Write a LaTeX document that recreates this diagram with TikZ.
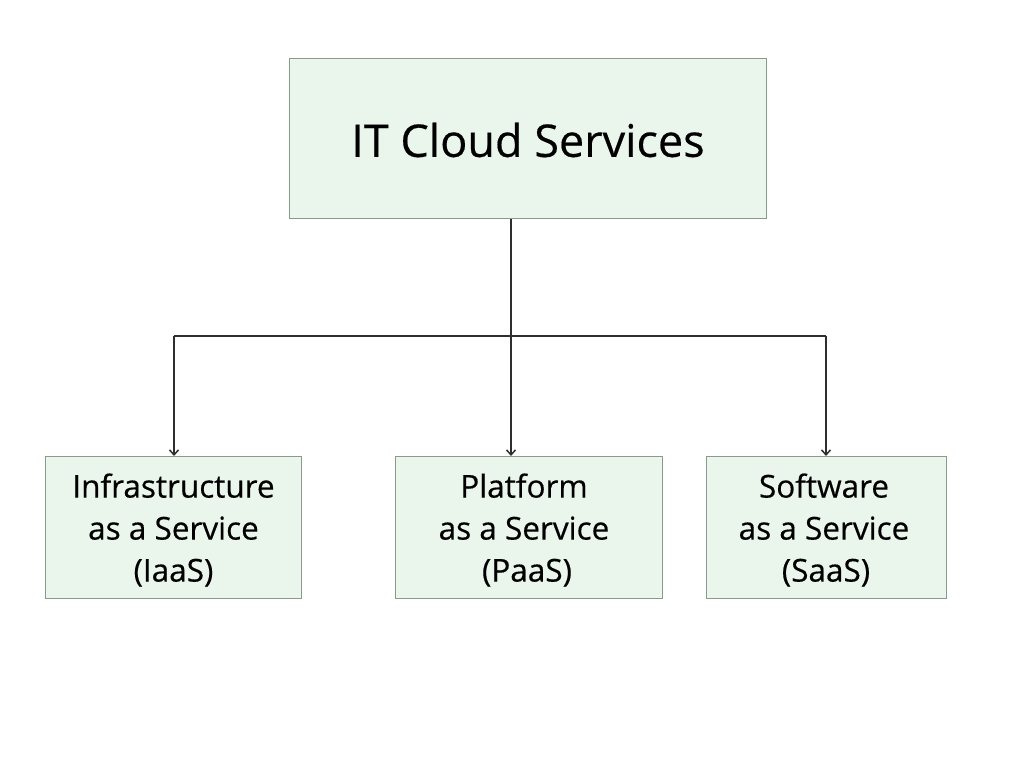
\documentclass[tikz,border=0pt]{standalone}
\usepackage{fontspec}
\setmainfont{Open Sans}[FakeBold=0.4,AutoFakeBold=0.4]
\usetikzlibrary{arrows.meta}
\definecolor{boxfill}{HTML}{EAF5EC}
\definecolor{boxline}{HTML}{8A9A8C}
\definecolor{linecol}{HTML}{2E2E2E}
\tikzset{
  box/.style={draw=boxline, fill=boxfill, line width=1pt, inner sep=0pt, anchor=north west},
  conn/.style={draw=linecol, line width=2.3pt},
  arr/.style={conn, -{Straight Barb[length=5pt,width=9pt,line width=1.5pt]}},
  small/.style={font=\fontsize{31.5}{42}\selectfont\bfseries, align=center}
}
\begin{document}
\begin{tikzpicture}[x=1pt,y=-1pt]
\useasboundingbox (0,0) rectangle (1024,768);
\fill[white] (0,0) rectangle (1024,768);
\node[box, minimum width=477pt, minimum height=160pt] (top) at (289,58) {};
\node[font=\fontsize{45}{50}\selectfont\bfseries] (toptext) at (528,140) {IT Cloud Services};
\node[box, minimum width=256pt, minimum height=142pt] (iaas) at (45,456) {};
\node[box, minimum width=267pt, minimum height=142pt] (paas) at (395,456) {};
\node[box, minimum width=240pt, minimum height=142pt] (saas) at (706,456) {};
\node[small] (iaast) at (173.5,530) {Infrastructure\\as a Service\\(IaaS)};
\node[small] (paast) at (524,530) {Platform\\as a Service\\\hspace*{6pt}(PaaS)};
\node[small] (saast) at (824,530) {Software\\as a Service\\\hspace*{4pt}(SaaS)};
\coordinate (j) at (511,336);
\coordinate (jl) at (174,336);
\coordinate (jr) at (826,336);
\draw[conn] (top.south -| j) -- (j);
\draw[conn] (jl) -- (jr);
\draw[arr] (jl) -- (jl |- iaas.north);
\draw[arr] (j) -- (j |- paas.north);
\draw[arr] (jr) -- (jr |- saas.north);
\end{tikzpicture}
\end{document}
